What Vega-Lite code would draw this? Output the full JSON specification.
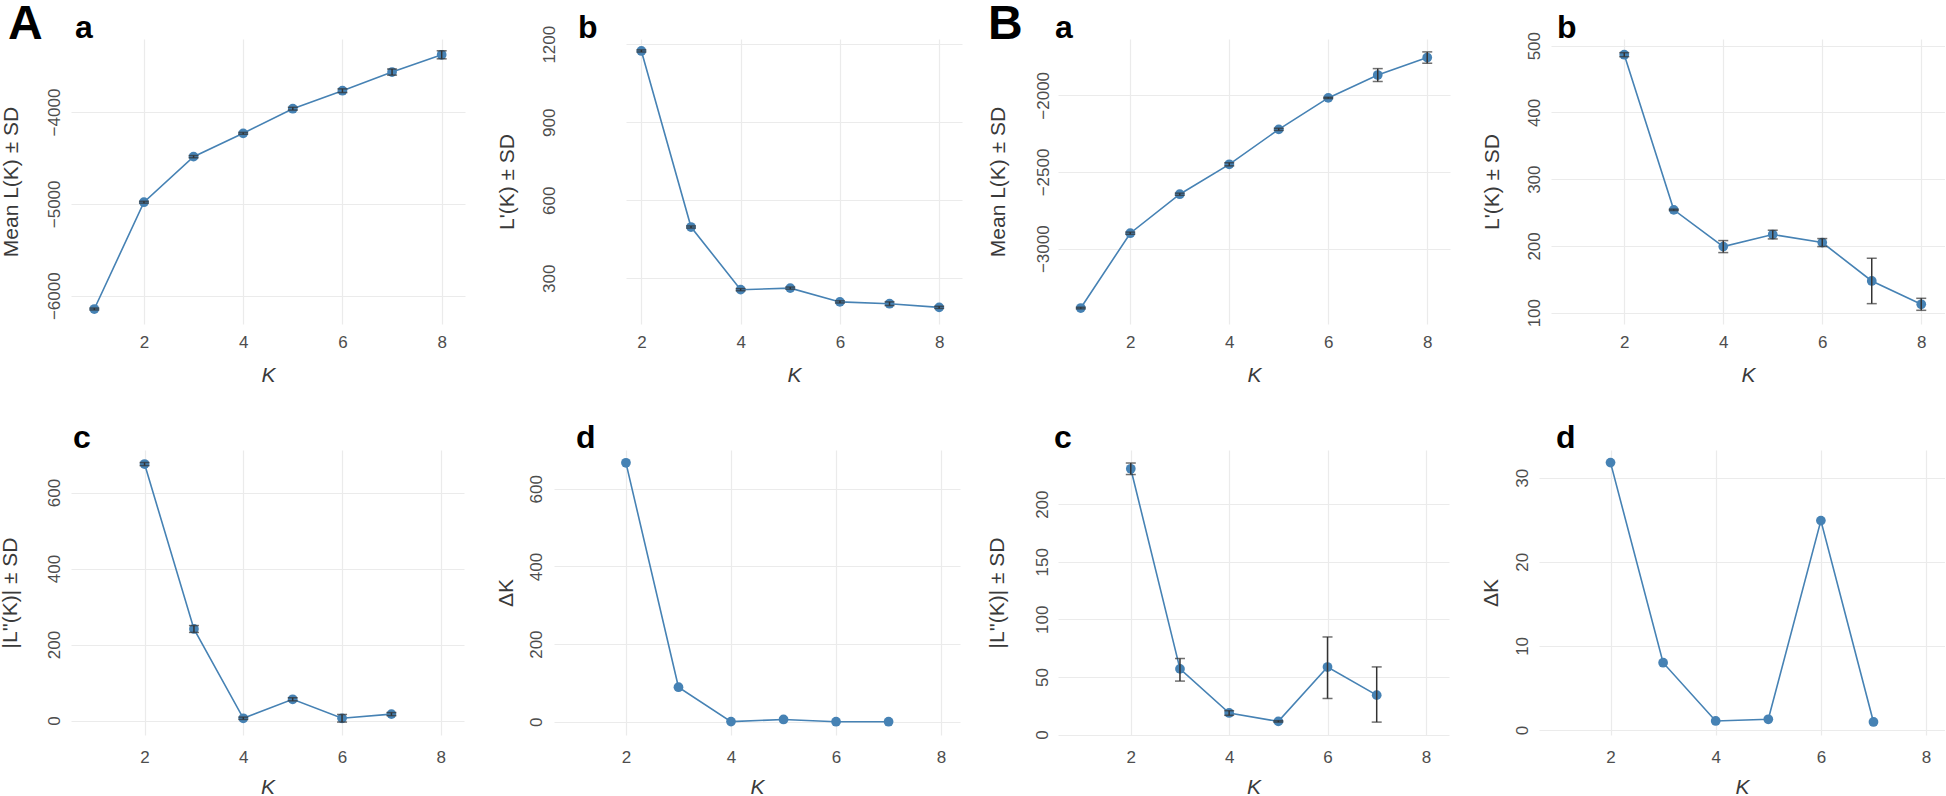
{
  "$schema": "https://vega.github.io/schema/vega-lite/v6.json",
  "padding": {"left": -1, "top": 0, "right": 0, "bottom": 0},
  "background": "white",
  "datasets": {
    "k": [
      {"g": "A", "p": "a", "K": 1, "v": -6145, "lo": -6155, "hi": -6135},
      {"g": "A", "p": "a", "K": 2, "v": -4982, "lo": -4992, "hi": -4972},
      {"g": "A", "p": "a", "K": 3, "v": -4486, "lo": -4498, "hi": -4474},
      {"g": "A", "p": "a", "K": 4, "v": -4232, "lo": -4242, "hi": -4222},
      {"g": "A", "p": "a", "K": 5, "v": -3964, "lo": -3979, "hi": -3949},
      {"g": "A", "p": "a", "K": 6, "v": -3768, "lo": -3788, "hi": -3748},
      {"g": "A", "p": "a", "K": 7, "v": -3565, "lo": -3598, "hi": -3532},
      {"g": "A", "p": "a", "K": 8, "v": -3377, "lo": -3421, "hi": -3333},
      {"g": "A", "p": "b", "K": 2, "v": 1174, "lo": 1170, "hi": 1178},
      {"g": "A", "p": "b", "K": 3, "v": 497, "lo": 493, "hi": 501},
      {"g": "A", "p": "b", "K": 4, "v": 256, "lo": 252, "hi": 260},
      {"g": "A", "p": "b", "K": 5, "v": 262, "lo": 258, "hi": 266},
      {"g": "A", "p": "b", "K": 6, "v": 209, "lo": 205, "hi": 213},
      {"g": "A", "p": "b", "K": 7, "v": 202, "lo": 195, "hi": 209},
      {"g": "A", "p": "b", "K": 8, "v": 188, "lo": 184, "hi": 192},
      {"g": "A", "p": "c", "K": 2, "v": 675, "lo": 671, "hi": 679},
      {"g": "A", "p": "c", "K": 3, "v": 241, "lo": 232, "hi": 250},
      {"g": "A", "p": "c", "K": 4, "v": 6, "lo": 3, "hi": 9},
      {"g": "A", "p": "c", "K": 5, "v": 56, "lo": 52, "hi": 60},
      {"g": "A", "p": "c", "K": 6, "v": 6, "lo": -4, "hi": 16},
      {"g": "A", "p": "c", "K": 7, "v": 17, "lo": 13, "hi": 21},
      {"g": "A", "p": "d", "K": 2, "v": 667},
      {"g": "A", "p": "d", "K": 3, "v": 89},
      {"g": "A", "p": "d", "K": 4, "v": 0.5},
      {"g": "A", "p": "d", "K": 5, "v": 6},
      {"g": "A", "p": "d", "K": 6, "v": 0.3},
      {"g": "A", "p": "d", "K": 7, "v": 0.3},
      {"g": "B", "p": "a", "K": 1, "v": -3387, "lo": -3392, "hi": -3382},
      {"g": "B", "p": "a", "K": 2, "v": -2899, "lo": -2906, "hi": -2892},
      {"g": "B", "p": "a", "K": 3, "v": -2645, "lo": -2652, "hi": -2638},
      {"g": "B", "p": "a", "K": 4, "v": -2450, "lo": -2460, "hi": -2440},
      {"g": "B", "p": "a", "K": 5, "v": -2222, "lo": -2229, "hi": -2215},
      {"g": "B", "p": "a", "K": 6, "v": -2017, "lo": -2021, "hi": -2013},
      {"g": "B", "p": "a", "K": 7, "v": -1868, "lo": -1910, "hi": -1826},
      {"g": "B", "p": "a", "K": 8, "v": -1754, "lo": -1791, "hi": -1717},
      {"g": "B", "p": "b", "K": 2, "v": 486.5, "lo": 483.5, "hi": 489.5},
      {"g": "B", "p": "b", "K": 3, "v": 254, "lo": 253, "hi": 255},
      {"g": "B", "p": "b", "K": 4, "v": 199, "lo": 190, "hi": 208},
      {"g": "B", "p": "b", "K": 5, "v": 217, "lo": 210.5, "hi": 223.5},
      {"g": "B", "p": "b", "K": 6, "v": 205, "lo": 199, "hi": 211},
      {"g": "B", "p": "b", "K": 7, "v": 147.5, "lo": 113.5, "hi": 181.5},
      {"g": "B", "p": "b", "K": 8, "v": 112.5, "lo": 103.5, "hi": 121.5},
      {"g": "B", "p": "c", "K": 2, "v": 230.7, "lo": 225.7, "hi": 235.7},
      {"g": "B", "p": "c", "K": 3, "v": 57, "lo": 46.4, "hi": 66},
      {"g": "B", "p": "c", "K": 4, "v": 18.7, "lo": 16.7, "hi": 20.7},
      {"g": "B", "p": "c", "K": 5, "v": 11.4, "lo": 10.8, "hi": 12},
      {"g": "B", "p": "c", "K": 6, "v": 58.6, "lo": 31.3, "hi": 84.7},
      {"g": "B", "p": "c", "K": 7, "v": 34.2, "lo": 10.8, "hi": 58.7},
      {"g": "B", "p": "d", "K": 2, "v": 31.8},
      {"g": "B", "p": "d", "K": 3, "v": 8.0},
      {"g": "B", "p": "d", "K": 4, "v": 1.07},
      {"g": "B", "p": "d", "K": 5, "v": 1.27},
      {"g": "B", "p": "d", "K": 6, "v": 24.9},
      {"g": "B", "p": "d", "K": 7, "v": 0.95}
    ]
  },
  "hconcat": [
    {
      "title": {"text": "A", "anchor": "start", "frame": "bounds", "fontSize": 48, "fontWeight": "bold", "baseline": "alphabetic", "offset": 0, "dx": 9, "dy": 75, "color": "black", "font": "Liberation Sans"},
      "spacing": 37,
      "vconcat": [
        {
          "spacing": 31,
          "hconcat": [
            {
              "width": 394, "height": 285,
              "title": {"text": "a", "baseline": "alphabetic", "offset": 0, "dx": 4, "dy": 31},
              "data": {"name": "k"},
              "transform": [{"filter": "datum.g === 'A' && datum.p === 'a'"}],
              "encoding": {
                "x": {"field": "K", "type": "quantitative", "scale": {"domain": [0.53, 8.47], "nice": false, "zero": false}, "axis": {"values": [2, 4, 6, 8], "title": "K", "labelPadding": 10, "titlePadding": 27}}
              },
              "layer": [
                {"mark": {"type": "line", "color": "#4682B4", "strokeWidth": 1.6}, "encoding": {"y": {"field": "v", "type": "quantitative", "scale": {"domain": [-6308, -3205], "nice": false, "zero": false}, "axis": {"values": [-6000, -5000, -4000], "format": "d", "title": "Mean L(K) ± SD", "labelPadding": 12, "titlePadding": 24}}}},
                {"mark": {"type": "circle", "color": "#4682B4", "size": 95, "opacity": 1}, "encoding": {"y": {"field": "v", "type": "quantitative"}}},
                {"mark": {"type": "rule", "color": "#333333", "strokeWidth": 1.5}, "encoding": {"y": {"field": "lo", "type": "quantitative"}, "y2": {"field": "hi"}}},
                {"mark": {"type": "tick", "orient": "horizontal", "size": 10, "thickness": 1.5, "color": "#333333"}, "encoding": {"y": {"field": "lo", "type": "quantitative"}}},
                {"mark": {"type": "tick", "orient": "horizontal", "size": 10, "thickness": 1.5, "color": "#333333"}, "encoding": {"y": {"field": "hi", "type": "quantitative"}}}
              ]
            },
            {
              "width": 336, "height": 285,
              "title": {"text": "b", "baseline": "alphabetic", "offset": 0, "dx": -48, "dy": 45},
              "data": {"name": "k"},
              "transform": [{"filter": "datum.g === 'A' && datum.p === 'b'"}],
              "encoding": {
                "x": {"field": "K", "type": "quantitative", "scale": {"domain": [1.69, 8.46], "nice": false, "zero": false}, "axis": {"values": [2, 4, 6, 8], "title": "K", "labelPadding": 10, "titlePadding": 27}}
              },
              "layer": [
                {"mark": {"type": "line", "color": "#4682B4", "strokeWidth": 1.6}, "encoding": {"y": {"field": "v", "type": "quantitative", "scale": {"domain": [124, 1220], "nice": false, "zero": false}, "axis": {"values": [300, 600, 900, 1200], "format": "d", "title": "L'(K) ± SD", "labelPadding": 72, "titlePadding": 83}}}},
                {"mark": {"type": "circle", "color": "#4682B4", "size": 95, "opacity": 1}, "encoding": {"y": {"field": "v", "type": "quantitative"}}},
                {"mark": {"type": "rule", "color": "#333333", "strokeWidth": 1.5}, "encoding": {"y": {"field": "lo", "type": "quantitative"}, "y2": {"field": "hi"}}},
                {"mark": {"type": "tick", "orient": "horizontal", "size": 10, "thickness": 1.5, "color": "#333333"}, "encoding": {"y": {"field": "lo", "type": "quantitative"}}},
                {"mark": {"type": "tick", "orient": "horizontal", "size": 10, "thickness": 1.5, "color": "#333333"}, "encoding": {"y": {"field": "hi", "type": "quantitative"}}}
              ]
            }
          ]
        },
        {
          "spacing": 31,
          "hconcat": [
            {
              "width": 393, "height": 285,
              "title": {"text": "c", "baseline": "alphabetic", "offset": 0, "dx": 2, "dy": 30},
              "data": {"name": "k"},
              "transform": [{"filter": "datum.g === 'A' && datum.p === 'c'"}],
              "encoding": {
                "x": {"field": "K", "type": "quantitative", "scale": {"domain": [0.51, 8.47], "nice": false, "zero": false}, "axis": {"values": [2, 4, 6, 8], "title": "K", "labelPadding": 14, "titlePadding": 28}}
              },
              "layer": [
                {"mark": {"type": "line", "color": "#4682B4", "strokeWidth": 1.6}, "encoding": {"y": {"field": "v", "type": "quantitative", "scale": {"domain": [-38, 712], "nice": false, "zero": false}, "axis": {"values": [0, 200, 400, 600], "format": "d", "title": "|L''(K)| ± SD", "labelPadding": 12, "titlePadding": 25}}}},
                {"mark": {"type": "circle", "color": "#4682B4", "size": 95, "opacity": 1}, "encoding": {"y": {"field": "v", "type": "quantitative"}}},
                {"mark": {"type": "rule", "color": "#333333", "strokeWidth": 1.5}, "encoding": {"y": {"field": "lo", "type": "quantitative"}, "y2": {"field": "hi"}}},
                {"mark": {"type": "tick", "orient": "horizontal", "size": 10, "thickness": 1.5, "color": "#333333"}, "encoding": {"y": {"field": "lo", "type": "quantitative"}}},
                {"mark": {"type": "tick", "orient": "horizontal", "size": 10, "thickness": 1.5, "color": "#333333"}, "encoding": {"y": {"field": "hi", "type": "quantitative"}}}
              ]
            },
            {
              "width": 406, "height": 285,
              "title": {"text": "d", "baseline": "alphabetic", "offset": 0, "dx": 22, "dy": 30},
              "data": {"name": "k"},
              "transform": [{"filter": "datum.g === 'A' && datum.p === 'd'"}],
              "encoding": {
                "x": {"field": "K", "type": "quantitative", "scale": {"domain": [0.63, 8.36], "nice": false, "zero": false}, "axis": {"values": [2, 4, 6, 8], "title": "K", "labelPadding": 14, "titlePadding": 28}}
              },
              "layer": [
                {"mark": {"type": "line", "color": "#4682B4", "strokeWidth": 1.6}, "encoding": {"y": {"field": "v", "type": "quantitative", "scale": {"domain": [-34, 700], "nice": false, "zero": false}, "axis": {"values": [0, 200, 400, 600], "format": "d", "title": "ΔK", "labelPadding": 13, "titlePadding": 12}}}},
                {"mark": {"type": "circle", "color": "#4682B4", "size": 95, "opacity": 1}, "encoding": {"y": {"field": "v", "type": "quantitative"}}}
              ]
            }
          ]
        }
      ]
    },
    {
      "title": {"text": "B", "anchor": "start", "frame": "bounds", "fontSize": 48, "fontWeight": "bold", "baseline": "alphabetic", "offset": 0, "dx": 2, "dy": 75, "color": "black", "font": "Liberation Sans"},
      "spacing": 37,
      "vconcat": [
        {
          "spacing": 31,
          "hconcat": [
            {
              "width": 392, "height": 285,
              "title": {"text": "a", "baseline": "alphabetic", "offset": 0, "dx": -3, "dy": 31},
              "data": {"name": "k"},
              "transform": [{"filter": "datum.g === 'B' && datum.p === 'a'"}],
              "encoding": {
                "x": {"field": "K", "type": "quantitative", "scale": {"domain": [0.54, 8.46], "nice": false, "zero": false}, "axis": {"values": [2, 4, 6, 8], "title": "K", "labelPadding": 10, "titlePadding": 27}}
              },
              "layer": [
                {"mark": {"type": "line", "color": "#4682B4", "strokeWidth": 1.6}, "encoding": {"y": {"field": "v", "type": "quantitative", "scale": {"domain": [-3491, -1633], "nice": false, "zero": false}, "axis": {"values": [-3000, -2500, -2000], "format": "d", "title": "Mean L(K) ± SD", "labelPadding": 10, "titlePadding": 24}}}},
                {"mark": {"type": "circle", "color": "#4682B4", "size": 95, "opacity": 1}, "encoding": {"y": {"field": "v", "type": "quantitative"}}},
                {"mark": {"type": "rule", "color": "#333333", "strokeWidth": 1.5}, "encoding": {"y": {"field": "lo", "type": "quantitative"}, "y2": {"field": "hi"}}},
                {"mark": {"type": "tick", "orient": "horizontal", "size": 10, "thickness": 1.5, "color": "#333333"}, "encoding": {"y": {"field": "lo", "type": "quantitative"}}},
                {"mark": {"type": "tick", "orient": "horizontal", "size": 10, "thickness": 1.5, "color": "#333333"}, "encoding": {"y": {"field": "hi", "type": "quantitative"}}}
              ]
            },
            {
              "width": 394, "height": 285,
              "title": {"text": "b", "baseline": "alphabetic", "offset": 0, "dx": 6, "dy": 38.5},
              "data": {"name": "k"},
              "transform": [{"filter": "datum.g === 'B' && datum.p === 'b'"}],
              "encoding": {
                "x": {"field": "K", "type": "quantitative", "scale": {"domain": [0.52, 8.48], "nice": false, "zero": false}, "axis": {"values": [2, 4, 6, 8], "title": "K", "labelPadding": 10, "titlePadding": 27}}
              },
              "layer": [
                {"mark": {"type": "line", "color": "#4682B4", "strokeWidth": 1.6}, "encoding": {"y": {"field": "v", "type": "quantitative", "scale": {"domain": [83, 510], "nice": false, "zero": false}, "axis": {"values": [100, 200, 300, 400, 500], "format": "d", "title": "L'(K) ± SD", "labelPadding": 12, "titlePadding": 23}}}},
                {"mark": {"type": "circle", "color": "#4682B4", "size": 95, "opacity": 1}, "encoding": {"y": {"field": "v", "type": "quantitative"}}},
                {"mark": {"type": "rule", "color": "#333333", "strokeWidth": 1.5}, "encoding": {"y": {"field": "lo", "type": "quantitative"}, "y2": {"field": "hi"}}},
                {"mark": {"type": "tick", "orient": "horizontal", "size": 10, "thickness": 1.5, "color": "#333333"}, "encoding": {"y": {"field": "lo", "type": "quantitative"}}},
                {"mark": {"type": "tick", "orient": "horizontal", "size": 10, "thickness": 1.5, "color": "#333333"}, "encoding": {"y": {"field": "hi", "type": "quantitative"}}}
              ]
            }
          ]
        },
        {
          "spacing": 31,
          "hconcat": [
            {
              "width": 391, "height": 285,
              "title": {"text": "c", "baseline": "alphabetic", "offset": 0, "dx": -4, "dy": 30},
              "data": {"name": "k"},
              "transform": [{"filter": "datum.g === 'B' && datum.p === 'c'"}],
              "encoding": {
                "x": {"field": "K", "type": "quantitative", "scale": {"domain": [0.52, 8.47], "nice": false, "zero": false}, "axis": {"values": [2, 4, 6, 8], "title": "K", "labelPadding": 14, "titlePadding": 28}}
              },
              "layer": [
                {"mark": {"type": "line", "color": "#4682B4", "strokeWidth": 1.6}, "encoding": {"y": {"field": "v", "type": "quantitative", "scale": {"domain": [-0.4, 247], "nice": false, "zero": false}, "axis": {"values": [0, 50, 100, 150, 200], "format": "d", "title": "|L''(K)| ± SD", "labelPadding": 11, "titlePadding": 25}}}},
                {"mark": {"type": "circle", "color": "#4682B4", "size": 95, "opacity": 1}, "encoding": {"y": {"field": "v", "type": "quantitative"}}},
                {"mark": {"type": "rule", "color": "#333333", "strokeWidth": 1.5}, "encoding": {"y": {"field": "lo", "type": "quantitative"}, "y2": {"field": "hi"}}},
                {"mark": {"type": "tick", "orient": "horizontal", "size": 10, "thickness": 1.5, "color": "#333333"}, "encoding": {"y": {"field": "lo", "type": "quantitative"}}},
                {"mark": {"type": "tick", "orient": "horizontal", "size": 10, "thickness": 1.5, "color": "#333333"}, "encoding": {"y": {"field": "hi", "type": "quantitative"}}}
              ]
            },
            {
              "width": 406, "height": 285,
              "title": {"text": "d", "baseline": "alphabetic", "offset": 0, "dx": 17, "dy": 30},
              "data": {"name": "k"},
              "transform": [{"filter": "datum.g === 'B' && datum.p === 'd'"}],
              "encoding": {
                "x": {"field": "K", "type": "quantitative", "scale": {"domain": [0.64, 8.36], "nice": false, "zero": false}, "axis": {"values": [2, 4, 6, 8], "title": "K", "labelPadding": 14, "titlePadding": 28}}
              },
              "layer": [
                {"mark": {"type": "line", "color": "#4682B4", "strokeWidth": 1.6}, "encoding": {"y": {"field": "v", "type": "quantitative", "scale": {"domain": [-0.6, 33.3], "nice": false, "zero": false}, "axis": {"values": [0, 10, 20, 30], "format": "d", "title": "ΔK", "labelPadding": 12, "titlePadding": 12}}}},
                {"mark": {"type": "circle", "color": "#4682B4", "size": 95, "opacity": 1}, "encoding": {"y": {"field": "v", "type": "quantitative"}}}
              ]
            }
          ]
        }
      ]
    }
  ],
  "spacing": 24,
  "config": {
    "view": {"stroke": null},
    "font": "Liberation Sans",
    "title": {"anchor": "start", "frame": "group", "fontSize": 32, "fontWeight": "bold", "color": "black", "font": "Liberation Sans"},
    "axis": {
      "domain": false, "ticks": false, "tickSize": 0, "grid": true,
      "gridColor": "#EBEBEB", "gridWidth": 1.2,
      "labelFont": "Liberation Sans", "labelFontSize": 17, "labelColor": "#4D4D4D",
      "titleFont": "Liberation Sans", "titleFontSize": 21, "titleFontWeight": "normal", "titleColor": "#3A3A3A"
    },
    "axisX": {"labelBaseline": "top", "minExtent": 30, "maxExtent": 30, "titleFontStyle": "italic", "titleBaseline": "alphabetic"},
    "axisY": {"labelAngle": -90, "labelAlign": "center", "labelBaseline": "alphabetic", "minExtent": 30, "maxExtent": 30, "titleBaseline": "alphabetic", "titleAngle": -90}
  }
}
